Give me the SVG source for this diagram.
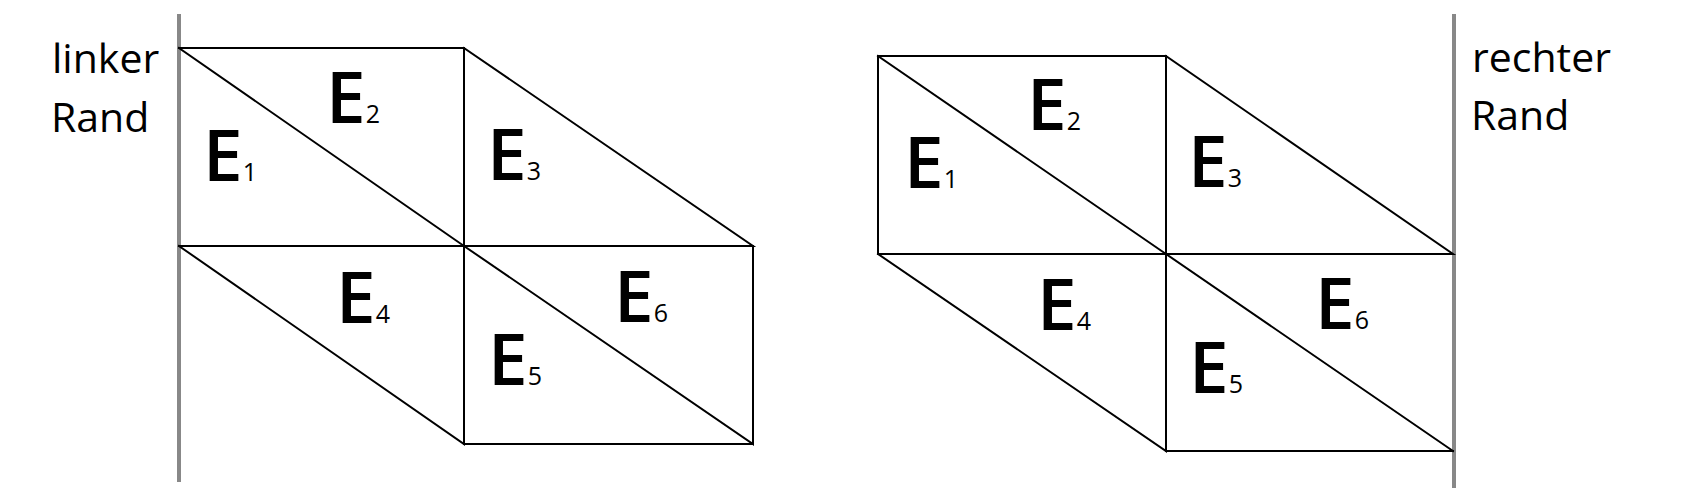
<svg xmlns="http://www.w3.org/2000/svg" width="1700" height="500" viewBox="0 0 1700 500">
<style>
.bd{stroke:#888;stroke-width:4;fill:none}
.ln{stroke:#000;stroke-width:2;fill:none;stroke-linecap:square}
.lbl{font-family:"Open Sans","Liberation Sans",sans-serif;font-size:41px;fill:#000}
.el{font-family:"Open Sans","Liberation Sans",sans-serif;font-size:71px;font-weight:600;fill:#000}
.sub{font-size:25px;font-weight:400}
</style>
<rect width="1700" height="500" fill="#fff"/>
<g id="left-border">
<line class="bd" x1="179" y1="14" x2="179" y2="482"/>
<text class="lbl" x="52" y="73">linker</text>
<text class="lbl" x="51" y="132">Rand</text>
</g>
<g id="right-border">
<line class="bd" x1="1454" y1="14" x2="1454" y2="488"/>
<text class="lbl" x="1472" y="72">rechter</text>
<text class="lbl" x="1471" y="130">Rand</text>
</g>
<g id="connectors">
<g id="mesh-left">
<path class="ln" d="M179,48 H464 V246 H179 M179,48 L464,246 M464,48 L753,246 H464 M179,246 L464,444 V246 M464,246 L753,444 V246 M464,444 H753"/>
</g>
<g id="mesh-right">
<path class="ln" d="M878,56 H1166 V254 H878 Z M878,56 L1166,254 M1166,56 L1453,254 H1166 M878,254 L1166,451 V254 M1166,254 L1453,451 M1166,451 H1453"/>
</g>
</g>
<g id="left-E1"><text class="el" x="203" y="181">E<tspan class="sub">1</tspan></text></g>
<g id="left-E2"><text class="el" x="326" y="123">E<tspan class="sub">2</tspan></text></g>
<g id="left-E3"><text class="el" x="487" y="180">E<tspan class="sub">3</tspan></text></g>
<g id="left-E4"><text class="el" x="336" y="323">E<tspan class="sub">4</tspan></text></g>
<g id="left-E5"><text class="el" x="488" y="385">E<tspan class="sub">5</tspan></text></g>
<g id="left-E6"><text class="el" x="614" y="322">E<tspan class="sub">6</tspan></text></g>
<g id="right-E1"><text class="el" x="904" y="188">E<tspan class="sub">1</tspan></text></g>
<g id="right-E2"><text class="el" x="1027" y="130">E<tspan class="sub">2</tspan></text></g>
<g id="right-E3"><text class="el" x="1188" y="187">E<tspan class="sub">3</tspan></text></g>
<g id="right-E4"><text class="el" x="1037" y="330">E<tspan class="sub">4</tspan></text></g>
<g id="right-E5"><text class="el" x="1189" y="393">E<tspan class="sub">5</tspan></text></g>
<g id="right-E6"><text class="el" x="1315" y="329">E<tspan class="sub">6</tspan></text></g>
</svg>
